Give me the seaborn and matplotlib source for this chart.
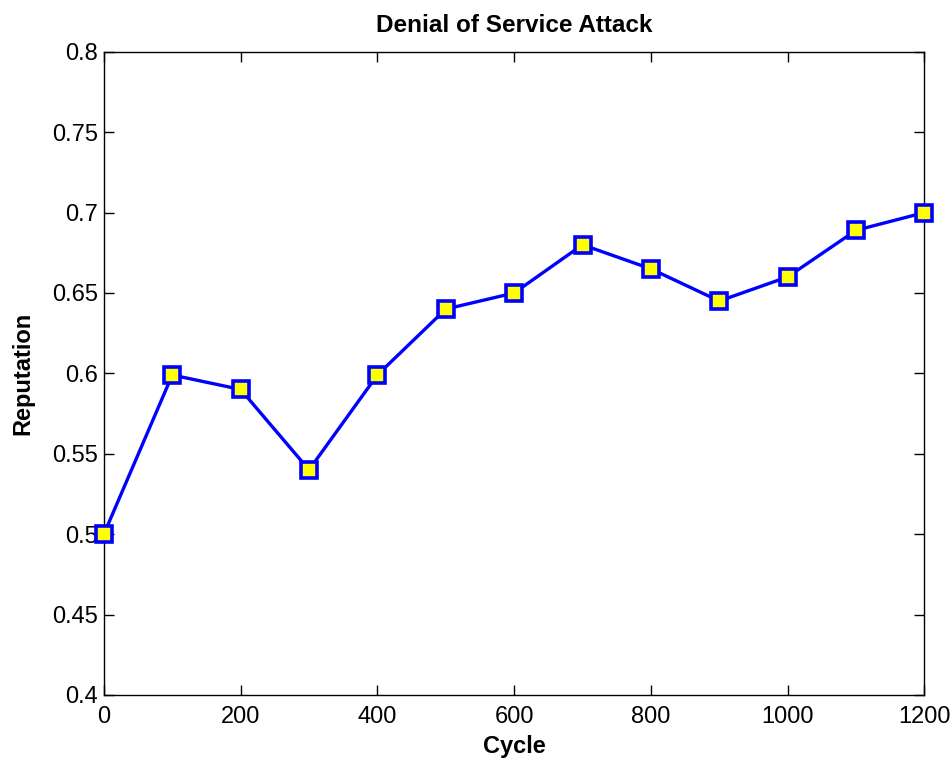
import matplotlib
matplotlib.use("Agg")
import matplotlib.pyplot as plt
import seaborn as sns
import pandas as pd

cycles = [0, 100, 200, 300, 400, 500, 600, 700, 800, 900, 1000, 1100, 1200]
reputation = [0.5, 0.599, 0.59, 0.54, 0.599, 0.64, 0.65, 0.68, 0.665, 0.645, 0.66, 0.689, 0.70]
x_ticks = [0, 200, 400, 600, 800, 1000, 1200]
y_ticks = [0.4, 0.45, 0.5, 0.55, 0.6, 0.65, 0.7, 0.75, 0.8]
y_tick_labels = ["0.4", "0.45", "0.5", "0.55", "0.6", "0.65", "0.7", "0.75", "0.8"]

sns.set_theme(style="white")
plt.rcParams["font.family"] = ["Liberation Sans", "DejaVu Sans"]

df = pd.DataFrame({"Cycle": cycles, "Reputation": reputation})

fig = plt.figure(figsize=(9.53, 7.62), dpi=100)
ax = fig.add_axes([0.109, 0.088, 0.861, 0.844])

sns.lineplot(data=df, x="Cycle", y="Reputation", ax=ax, color="#0000ff",
             linewidth=2.4, marker="s", markersize=11,
             markerfacecolor="#ffff00", markeredgecolor="#0000ff",
             markeredgewidth=2.6, clip_on=False, zorder=5)

ax.set_xlim(0, 1200)
ax.set_ylim(0.4, 0.8)
ax.set_xticks(x_ticks)
ax.set_xticklabels([str(t) for t in x_ticks])
ax.set_yticks(y_ticks)
ax.set_yticklabels(y_tick_labels)

ax.tick_params(direction="in", length=7, width=1, labelsize=17, colors="black",
               top=True, right=True, bottom=True, left=True)
ax.tick_params(axis="x", pad=8)
ax.tick_params(axis="y", pad=4)
for sp in ax.spines.values():
    sp.set_visible(True)
    sp.set_color("black")
    sp.set_linewidth(1)

ax.set_title("Denial of Service Attack", fontsize=17.5, fontweight="bold", pad=14,
             color="black")
ax.set_xlabel("Cycle", fontsize=17, fontweight="bold", labelpad=5, color="black")
ax.set_ylabel("Reputation", fontsize=17, fontweight="bold", labelpad=13, color="black")

fig.savefig("out.png", dpi=100)
